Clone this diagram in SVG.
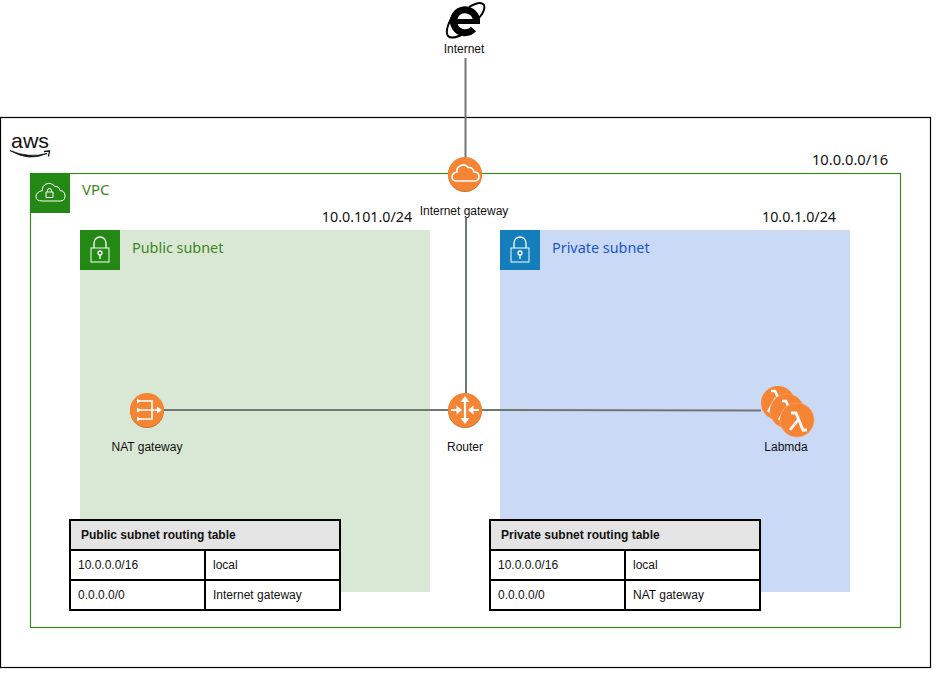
<svg xmlns="http://www.w3.org/2000/svg" width="950" height="686" viewBox="0 0 950 686">
<defs>
<style>
text{font-family:"Liberation Sans",Arial,sans-serif;font-size:12px;fill:#111}
.c{text-anchor:middle}
.t{font-family:"Noto Sans","Open Sans",sans-serif;font-size:14.4px}
.cidr{font-family:"Noto Sans","Open Sans",sans-serif;font-size:14.7px;fill:#111}
.cids{font-family:"Noto Sans","Open Sans",sans-serif;font-size:14.3px;fill:#111}
.ln{fill:none;stroke:#6f7770;stroke-width:2}
.ic{fill:none;stroke:#fff;stroke-width:1;stroke-linejoin:round}
.icl{fill:none;stroke:#fff;stroke-width:1.3}
.w{fill:none;stroke:#fff;stroke-width:1.6}
.wr{fill:none;stroke:#fff;stroke-width:2.2}
.wl{fill:none;stroke:#fff;stroke-width:2.6}
.wf{fill:#fff}
.o{fill:#f58534}
.os{fill:#c86f2c}
.tb{fill:#fff;stroke:#000;stroke-width:2}
.th{fill:#e4e4e4;stroke:#000;stroke-width:2}
.b{font-weight:bold}
</style>
</defs>
<rect width="950" height="686" fill="#fff"/>
<g id="aws-cloud">
<rect x="0.5" y="117.5" width="930" height="550" fill="#fff" stroke="#000" stroke-width="1.2"/>
<text x="11" y="148" textLength="38" lengthAdjust="spacingAndGlyphs" style="font-size:21px;fill:#111">aws</text>
<path d="M10 150.500Q29 162 47 153.500Q29 158.500 10 150.500Z" fill="#111" stroke="#111" stroke-width=".8"/>
<path d="M44 151.500L49.500 151L48.500 156.500" fill="none" stroke="#111" stroke-width="1.300"/>
</g>
<g id="vpc">
<rect x="30.500" y="173.500" width="870" height="454" fill="none" stroke="#3f8624" stroke-width="1.200"/>
<rect x="30" y="173" width="40" height="40" fill="#248814"/>
<path class="ic" d="M42 201H60Q65 201 65 196Q65 191 60 190.500Q59 186 55 186.500Q51 182 46 184Q42 186 42.500 190.500Q36 192 36 196.500Q36 201 42 201Z"/>
<rect x="46" y="192" width="7" height="5.500" class="ic"/>
<path d="M47.500 192V190.500A2 2 0 0 1 51.500 190.500V192" class="ic"/>
<text x="82" y="195" class="t" style="font-size:15px;fill:#3f8624">VPC</text>
<text x="850" y="165" class="cidr c">10.0.0.0/16</text>
</g>
<g id="public-subnet">
<rect x="80" y="230" width="350" height="362" fill="#d9e8d4"/>
<rect x="80" y="230" width="40" height="40" fill="#248814"/>
<rect x="91" y="248" width="18" height="14" class="icl" opacity=".75"/>
<path d="M94 248V243A6 6 0 0 1 106 243V248" class="icl"/>
<circle cx="100" cy="253" r="2" class="icl"/><path d="M100 255V259" class="icl"/>
<text x="132" y="253" class="t" style="fill:#3f8624">Public subnet</text>
<text x="367" y="222" class="cids c">10.0.101.0/24</text>
</g>
<g id="private-subnet">
<rect x="500" y="230" width="350" height="362" fill="#c9d9f6"/>
<rect x="500" y="230" width="40" height="40" fill="#147ebb"/>
<rect x="511" y="248" width="18" height="14" class="icl" opacity=".75"/>
<path d="M514 248V243A6 6 0 0 1 526 243V248" class="icl"/>
<circle cx="520" cy="253" r="2" class="icl"/><path d="M520 255V259" class="icl"/>
<text x="552" y="253" class="t" style="fill:#1a56c8">Private subnet</text>
<text x="799" y="222" class="cids c">10.0.1.0/24</text>
</g>
<g id="connectors">
<path class="ln" d="M465.500 58V158"/>
<path class="ln" d="M466 218V394"/>
<path class="ln" d="M163 410H449"/>
<path class="ln" d="M482 410L761 410.500"/>
</g>
<g id="internet">
<path d="M476.500 21A11.500 11.500 0 1 0 473.500 29" fill="none" stroke="#000" stroke-width="7"/>
<rect x="456" y="19" width="24" height="5" fill="#000"/>
<path d="M469 7Q481 0 484 5Q486 11 477 20" fill="none" stroke="#000" stroke-width="2"/>
<path d="M453 15Q444 31 448 36Q452 40 463 34" fill="none" stroke="#000" stroke-width="2"/>
<text x="464" y="53" class="c">Internet</text>
</g>
<g id="internet-gateway">
<circle class="os" cx="465" cy="175" r="17"/>
<circle class="o" cx="465" cy="174" r="17"/>
<path class="w" d="M457 181H474Q479 181 479 176.500Q479 172 474 172Q473 167 468 167.500Q465 163 460 166Q456 168 457 172Q452 173 452 177Q452 181 457 181Z"/>
<text x="464" y="215" class="c">Internet gateway</text>
</g>
<g id="nat-gateway">
<circle class="os" cx="147" cy="411" r="17"/>
<circle class="o" cx="147" cy="410" r="17"/>
<path class="w" d="M138 401H152V419H138M138 410H159"/>
<path class="wf" d="M137 398.500L141 401L137 403.500ZM137 407.500L141 410L137 412.500ZM137 416.500L141 419L137 421.500ZM157 406.500L162 410L157 413.500Z"/>
<text x="147" y="451" class="c">NAT gateway</text>
</g>
<g id="router">
<circle class="os" cx="465" cy="411" r="17"/>
<circle class="o" cx="465" cy="410" r="17"/>
<path class="wr" d="M465 400V420M451 410H458M472 410H479"/>
<path class="wf" d="M465 396L460.500 402H469.500ZM465 424L460.500 418H469.500ZM462 410L456.500 405.500V414.500ZM468 410L473.500 405.500V414.500Z"/>
<text x="465" y="451" class="c">Router</text>
</g>
<g id="lambda">
<circle class="o" cx="778" cy="403" r="17"/>
<path class="wl" d="M771 391H775L780 402M776 398L768 412"/>
<circle class="o" cx="787" cy="411" r="17" stroke="#f8a36a" stroke-width=".6"/>
<path class="wl" d="M782 401H786L790 411M786 408L779 420"/>
<circle class="o" cx="797" cy="420" r="17" stroke="#f8a36a" stroke-width=".6"/>
<path d="M791 413H796L803 430H807M798 420L790 430" fill="none" stroke="#fff" stroke-width="2.800"/>
<text x="786" y="451" class="c">Labmda</text>
</g>
<g id="public-routing-table">
<rect class="th" x="70" y="520" width="270" height="30"/>
<rect class="tb" x="70" y="550" width="135" height="30"/>
<rect class="tb" x="205" y="550" width="135" height="30"/>
<rect class="tb" x="70" y="580" width="135" height="30"/>
<rect class="tb" x="205" y="580" width="135" height="30"/>
<text x="81" y="539" class="b">Public subnet routing table</text>
<text x="78" y="569">10.0.0.0/16</text><text x="213" y="569">local</text>
<text x="78" y="599">0.0.0.0/0</text><text x="213" y="599">Internet gateway</text>
</g>
<g id="private-routing-table">
<rect class="th" x="490" y="520" width="270" height="30"/>
<rect class="tb" x="490" y="550" width="135" height="30"/>
<rect class="tb" x="625" y="550" width="135" height="30"/>
<rect class="tb" x="490" y="580" width="135" height="30"/>
<rect class="tb" x="625" y="580" width="135" height="30"/>
<text x="501" y="539" class="b">Private subnet routing table</text>
<text x="498" y="569">10.0.0.0/16</text><text x="633" y="569">local</text>
<text x="498" y="599">0.0.0.0/0</text><text x="633" y="599">NAT gateway</text>
</g>
</svg>
